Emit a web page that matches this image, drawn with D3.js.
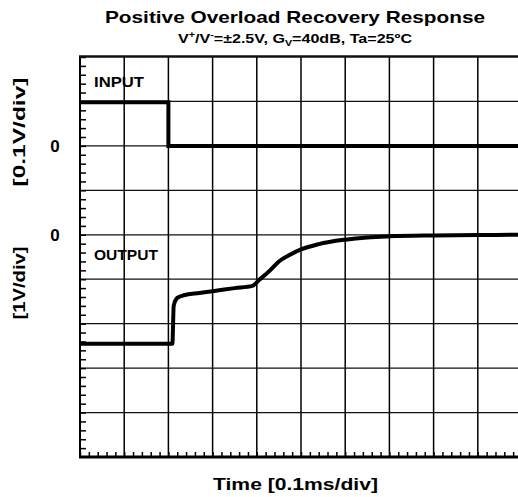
<!DOCTYPE html>
<html>
<head>
<meta charset="utf-8">
<script src="https://cdn.jsdelivr.net/npm/d3@7"></script>
<style>
  body { margin: 0; background: #fff; }
  text { font-family: "Liberation Sans", Arial, sans-serif; font-weight: bold; fill: #000; }
</style>
</head>
<body>
<svg id="chart" width="518" height="497"></svg>
<script>
const inputTime = [0, 2.0, 2.0, 10];
const inputVolt = [0.98, 0.98, 0, 0];       // [0.1V/div]
const outputTime = [0, 2.09, 2.12, 2.2, 2.35, 2.7, 3.0, 3.5, 3.9, 4.05, 4.3, 4.5, 4.75, 5.0, 5.4, 6.0, 6.5, 7.0, 8.0, 9.0, 10.0];
const outputVolt = [-2.45, -2.45, -1.6, -1.42, -1.36, -1.31, -1.27, -1.2, -1.15, -1.02, -0.8, -0.6, -0.45, -0.33, -0.21, -0.11, -0.06, -0.035, -0.015, -0.005, 0]; // [1V/div]
const zeroLabels = ["0", "0"];

const svg = d3.select("#chart");
const margin = { top: 57, left: 80 };
const plotW = 442, plotH = 400;

const x = d3.scaleLinear().domain([0, 10]).range([margin.left, margin.left + plotW]);
const yDiv = d3.scaleLinear().domain([0, 9]).range([margin.top, margin.top + plotH]);
// échelles propres à chaque trace
const yIn = d3.scaleLinear().domain([-7, 2]).range([margin.top + plotH, margin.top]);
const yOut = d3.scaleLinear().domain([-5, 4]).range([margin.top + plotH, margin.top]);

// grille
const grid = svg.append("g");
grid.selectAll(".v").data(d3.range(1, 10)).enter().append("line")
    .attr("x1", d => x(d)).attr("x2", d => x(d))
    .attr("y1", margin.top).attr("y2", margin.top + plotH)
    .attr("stroke", "#000").attr("stroke-width", 1.5);
grid.selectAll(".h").data(d3.range(1, 9)).enter().append("line")
    .attr("x1", margin.left).attr("x2", margin.left + plotW)
    .attr("y1", d => yDiv(d)).attr("y2", d => yDiv(d))
    .attr("stroke", "#111").attr("stroke-width", 1.3);

// petites graduations
svg.append("g")
    .attr("transform", `translate(${margin.left},0)`)
    .call(d3.axisLeft(yDiv).tickValues(d3.range(0, 45).map(i => i / 5)).tickSize(-6).tickFormat(""))
    .call(g => g.select(".domain").remove())
    .selectAll("line").attr("stroke-width", 1.5);
svg.append("g")
    .attr("transform", `translate(0,${margin.top + plotH})`)
    .call(d3.axisBottom(x).tickValues(d3.range(0, 51).map(i => i / 5)).tickSize(-5).tickFormat(""))
    .call(g => g.select(".domain").remove())
    .selectAll("line").attr("stroke-width", 1.5);

// cadre
svg.append("line").attr("x1", margin.left).attr("x2", margin.left)
    .attr("y1", margin.top - 1).attr("y2", margin.top + plotH + 1)
    .attr("stroke", "#000").attr("stroke-width", 2);
svg.append("line").attr("x1", margin.left - 1).attr("x2", margin.left + plotW)
    .attr("y1", margin.top + plotH).attr("y2", margin.top + plotH)
    .attr("stroke", "#000").attr("stroke-width", 3);
svg.append("line").attr("x1", margin.left - 1).attr("x2", margin.left + plotW)
    .attr("y1", margin.top - 0.5).attr("y2", margin.top - 0.5)
    .attr("stroke", "#111").attr("stroke-width", 2.5);

// traces
const inData = inputTime.map((t, i) => [t, inputVolt[i]]);
const outData = outputTime.map((t, i) => [t, outputVolt[i]]);

svg.append("path").datum(inData)
    .attr("fill", "none").attr("stroke", "#000").attr("stroke-width", 4)
    .attr("d", d3.line().x(d => x(d[0])).y(d => yIn(d[1])));
svg.append("path").datum(outData)
    .attr("fill", "none").attr("stroke", "#000").attr("stroke-width", 4)
    .attr("stroke-linejoin", "round")
    .attr("d", d3.line().x(d => x(d[0])).y(d => yOut(d[1])).curve(d3.curveMonotoneX));

// textes (police de référence plus large : on étire avec textLength)
function label(xp, yp, size, len, txt) {
    return svg.append("text").attr("x", xp).attr("y", yp).attr("text-anchor", "middle")
        .style("font-size", size + "px")
        .attr("textLength", len).attr("lengthAdjust", "spacingAndGlyphs")
        .text(txt);
}
label(295, 23, 17, 380, "Positive Overload Recovery Response");

const sub = svg.append("text").attr("x", 295).attr("y", 43).attr("text-anchor", "middle")
    .style("font-size", "13.5px")
    .attr("textLength", 234).attr("lengthAdjust", "spacingAndGlyphs");
sub.append("tspan").text("V");
sub.append("tspan").attr("dy", -5).style("font-size", "9px").text("+");
sub.append("tspan").attr("dy", 5).text("/V");
sub.append("tspan").attr("dy", -5).style("font-size", "9px").text("-");
sub.append("tspan").attr("dy", 5).text("=±2.5V, G");
sub.append("tspan").attr("dy", 3).style("font-size", "9px").text("V");
sub.append("tspan").attr("dy", -3).text("=40dB, Ta=25ºC");

label(295.5, 490, 17, 165, "Time [0.1ms/div]");

svg.append("text").attr("transform", "translate(25,132) rotate(-90)").attr("text-anchor", "middle")
    .style("font-size", "17px").attr("textLength", 109).attr("lengthAdjust", "spacingAndGlyphs")
    .text("[0.1V/div]");
svg.append("text").attr("transform", "translate(25,283) rotate(-90)").attr("text-anchor", "middle")
    .style("font-size", "17px").attr("textLength", 73).attr("lengthAdjust", "spacingAndGlyphs")
    .text("[1V/div]");

svg.append("text").attr("x", 55).attr("y", yIn(0) + 6).attr("text-anchor", "middle")
    .style("font-size", "17px").text(zeroLabels[0]);
svg.append("text").attr("x", 55).attr("y", yOut(0) + 6).attr("text-anchor", "middle")
    .style("font-size", "17px").text(zeroLabels[1]);

svg.append("text").attr("x", 94).attr("y", 87).style("font-size", "14px")
    .attr("textLength", 50).attr("lengthAdjust", "spacingAndGlyphs").text("INPUT");
svg.append("text").attr("x", 94).attr("y", 260).style("font-size", "14px")
    .attr("textLength", 64).attr("lengthAdjust", "spacingAndGlyphs").text("OUTPUT");
</script>
</body>
</html>
